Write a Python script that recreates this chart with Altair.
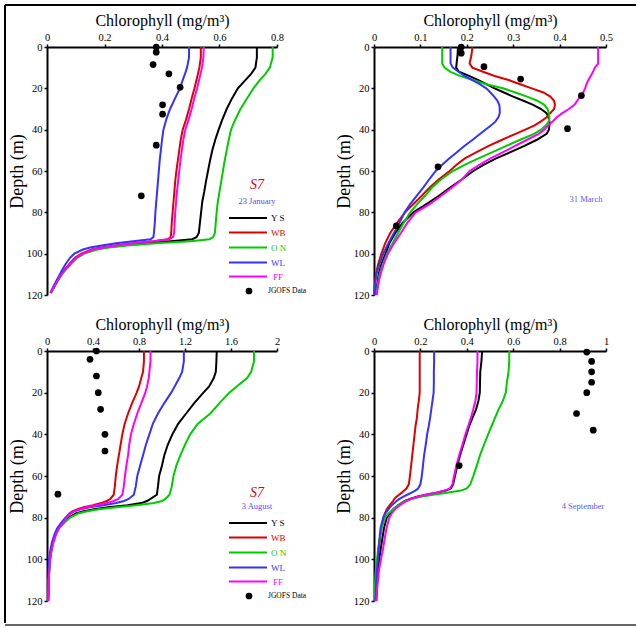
import altair as alt
import pandas as pd

SERIES = ["YS", "WB", "ON", "WL", "FF"]
COLORS = ["#000000", "#e00000", "#00cc00", "#3333ff", "#ff00ff"]
FONT = "Liberation Serif"

# ---------------- 23 January ----------------
JAN_DEPTH = [0, 5, 10, 13, 16, 20, 25, 30, 35, 40, 45, 50, 55, 60, 65, 70, 75, 80, 85, 90,
             92, 93, 94, 95, 96, 97, 98, 100, 102, 105, 108, 110, 113, 116, 119]
JAN_YS = [0.73, 0.73, 0.725, 0.71, 0.69, 0.664, 0.643, 0.625, 0.61, 0.597, 0.585, 0.575, 0.567, 0.56,
          0.553, 0.547, 0.54, 0.536, 0.532, 0.528, 0.52, 0.505, 0.43, 0.34, 0.26, 0.2, 0.16, 0.125,
          0.1, 0.08, 0.062, 0.05, 0.037, 0.025, 0.013]
JAN_WB = [0.535, 0.535, 0.53, 0.525, 0.52, 0.513, 0.503, 0.494, 0.484, 0.472, 0.465, 0.46, 0.455, 0.45,
          0.446, 0.443, 0.44, 0.437, 0.434, 0.432, 0.43, 0.42, 0.37, 0.3, 0.235, 0.19, 0.155, 0.12,
          0.097, 0.078, 0.06, 0.049, 0.036, 0.024, 0.012]
JAN_ON = [0.785, 0.785, 0.775, 0.76, 0.74, 0.718, 0.695, 0.673, 0.655, 0.64, 0.632, 0.625, 0.618, 0.612,
          0.606, 0.6, 0.594, 0.59, 0.587, 0.584, 0.578, 0.565, 0.5, 0.38, 0.28, 0.215, 0.175, 0.13,
          0.105, 0.083, 0.064, 0.052, 0.038, 0.026, 0.013]
JAN_WL = [0.494, 0.494, 0.487, 0.48, 0.472, 0.462, 0.445, 0.428, 0.415, 0.405, 0.4, 0.396, 0.392, 0.389,
          0.386, 0.383, 0.38, 0.377, 0.375, 0.372, 0.37, 0.36, 0.3, 0.24, 0.19, 0.15, 0.125, 0.095,
          0.08, 0.065, 0.052, 0.045, 0.033, 0.022, 0.012]
JAN_FF = [0.545, 0.544, 0.539, 0.534, 0.529, 0.522, 0.512, 0.503, 0.493, 0.481, 0.474, 0.469, 0.464, 0.46,
          0.456, 0.452, 0.449, 0.446, 0.444, 0.442, 0.438, 0.425, 0.37, 0.3, 0.24, 0.195, 0.16, 0.125,
          0.1, 0.08, 0.062, 0.05, 0.037, 0.025, 0.012]
JAN_OBS_CHL = [0.38, 0.38, 0.369, 0.424, 0.463, 0.402, 0.402, 0.38, 0.328]
JAN_OBS_DEPTH = [0, 2.5, 8.5, 13, 19.5, 28, 32.5, 47.5, 72]

# ---------------- 31 March ----------------
MAR_DEPTH = [0, 4, 8, 10, 12, 14, 16, 18, 20, 22, 24, 26, 28, 30, 32, 34, 36, 38, 40, 42, 45, 48,
             51, 54, 57, 60, 64, 68, 72, 76, 80, 85, 90, 95, 100, 105, 110, 115, 120]
MAR_YS = [0.181, 0.18, 0.178, 0.177, 0.183, 0.205, 0.225, 0.242, 0.26, 0.28, 0.3, 0.322, 0.343, 0.36,
          0.372, 0.376, 0.378, 0.378, 0.377, 0.372, 0.35, 0.323, 0.293, 0.262, 0.236, 0.214, 0.19,
          0.164, 0.14, 0.113, 0.085, 0.062, 0.046, 0.033, 0.025, 0.016, 0.01, 0.007, 0.005]
MAR_WB = [0.212, 0.21, 0.206, 0.212, 0.235, 0.26, 0.29, 0.315, 0.34, 0.365, 0.38, 0.388, 0.39, 0.388,
          0.38, 0.372, 0.36, 0.345, 0.326, 0.305, 0.275, 0.246, 0.22, 0.195, 0.178, 0.163, 0.14,
          0.12, 0.103, 0.085, 0.067, 0.05, 0.035, 0.024, 0.016, 0.009, 0.004, 0.002, 0.001]
MAR_ON = [0.147, 0.147, 0.147, 0.152, 0.165, 0.185, 0.213, 0.242, 0.278, 0.305, 0.33, 0.352, 0.367,
          0.374, 0.377, 0.378, 0.377, 0.37, 0.36, 0.345, 0.314, 0.284, 0.254, 0.224, 0.195, 0.17,
          0.145, 0.125, 0.11, 0.093, 0.078, 0.064, 0.052, 0.04, 0.028, 0.019, 0.012, 0.008, 0.005]
MAR_WL = [0.165, 0.165, 0.165, 0.17, 0.182, 0.195, 0.212, 0.228, 0.242, 0.251, 0.259, 0.266, 0.27,
          0.271, 0.271, 0.268, 0.262, 0.252, 0.24, 0.229, 0.212, 0.194, 0.178, 0.162, 0.147, 0.133,
          0.119, 0.106, 0.092, 0.078, 0.066, 0.055, 0.043, 0.031, 0.02, 0.012, 0.005, 0.002, 0.001]
MAR_FF = [0.483, 0.483, 0.483, 0.476, 0.472, 0.467, 0.462, 0.458, 0.455, 0.451, 0.444, 0.438, 0.432,
          0.42, 0.406, 0.394, 0.385, 0.375, 0.367, 0.355, 0.329, 0.303, 0.277, 0.25, 0.227, 0.206,
          0.19, 0.168, 0.145, 0.12, 0.09, 0.072, 0.058, 0.043, 0.03, 0.021, 0.014, 0.009, 0.006]
MAR_OBS_CHL = [0.188, 0.188, 0.237, 0.316, 0.447, 0.417, 0.138, 0.048]
MAR_OBS_DEPTH = [0, 3, 9.5, 15.5, 23.5, 39.5, 58, 86.5]

# ---------------- 3 August ----------------
AUG_DEPTH = [0, 5, 10, 13, 17, 20, 25, 30, 35, 40, 45, 50, 55, 60, 65, 69, 71, 72, 73, 74, 75, 76,
             77, 78, 80, 82, 85, 88, 92, 96, 100, 105, 110, 120]
AUG_YS = [1.476, 1.473, 1.468, 1.45, 1.41, 1.36, 1.28, 1.21, 1.14, 1.09, 1.05, 1.02, 1.0, 0.975,
          0.965, 0.955, 0.9, 0.87, 0.82, 0.7, 0.53, 0.41, 0.31, 0.25, 0.19, 0.15, 0.1, 0.075, 0.05,
          0.036, 0.026, 0.02, 0.015, 0.01]
AUG_WB = [0.843, 0.843, 0.835, 0.82, 0.8, 0.78, 0.74, 0.705, 0.675, 0.655, 0.64, 0.625, 0.61, 0.598,
          0.59, 0.58, 0.55, 0.52, 0.47, 0.4, 0.32, 0.26, 0.22, 0.195, 0.165, 0.14, 0.1, 0.072, 0.05,
          0.034, 0.024, 0.018, 0.014, 0.01]
AUG_ON = [1.8, 1.8, 1.775, 1.74, 1.65, 1.585, 1.5, 1.42, 1.31, 1.245, 1.2, 1.16, 1.125, 1.1, 1.085,
          1.065, 1.03, 1.0, 0.93, 0.78, 0.6, 0.45, 0.34, 0.27, 0.2, 0.16, 0.105, 0.078, 0.052, 0.038,
          0.027, 0.02, 0.015, 0.01]
AUG_WL = [1.19, 1.19, 1.175, 1.15, 1.11, 1.08, 1.02, 0.965, 0.92, 0.89, 0.86, 0.835, 0.81, 0.785,
          0.772, 0.755, 0.71, 0.67, 0.6, 0.49, 0.37, 0.29, 0.235, 0.2, 0.16, 0.13, 0.09, 0.065,
          0.042, 0.028, 0.018, 0.014, 0.012, 0.01]
AUG_FF = [0.9, 0.9, 0.89, 0.885, 0.87, 0.855, 0.82, 0.785, 0.755, 0.73, 0.715, 0.705, 0.69, 0.678,
          0.668, 0.655, 0.62, 0.58, 0.52, 0.43, 0.35, 0.28, 0.235, 0.205, 0.17, 0.145, 0.105, 0.078,
          0.055, 0.038, 0.027, 0.02, 0.015, 0.01]
AUG_OBS_CHL = [0.43, 0.374, 0.43, 0.446, 0.466, 0.504, 0.504, 0.095]
AUG_OBS_DEPTH = [0, 4, 12, 20, 28, 40, 48, 68.7]

# ---------------- 4 September ----------------
SEP_DEPTH = [0, 5, 10, 15, 20, 24, 28, 32, 36, 40, 45, 50, 55, 60, 64, 66, 67, 68, 69, 70, 71, 72,
             74, 76, 78, 80, 85, 90, 95, 100, 105, 110, 115, 120]
SEP_YS = [0.466, 0.463, 0.458, 0.457, 0.456, 0.45, 0.44, 0.425, 0.41, 0.399, 0.385, 0.371, 0.359,
          0.349, 0.341, 0.331, 0.31, 0.27, 0.225, 0.185, 0.155, 0.133, 0.105, 0.083, 0.068, 0.055,
          0.043, 0.036, 0.029, 0.022, 0.018, 0.014, 0.012, 0.01]
SEP_WB = [0.197, 0.197, 0.197, 0.197, 0.197, 0.193, 0.188, 0.185, 0.179, 0.175, 0.17, 0.165, 0.16,
          0.155, 0.15, 0.14, 0.13, 0.12, 0.108, 0.097, 0.088, 0.082, 0.068, 0.055, 0.047, 0.04,
          0.032, 0.025, 0.02, 0.016, 0.013, 0.01, 0.008, 0.006]
SEP_ON = [0.583, 0.583, 0.58, 0.573, 0.568, 0.555, 0.537, 0.522, 0.507, 0.492, 0.474, 0.457, 0.443,
          0.428, 0.415, 0.4, 0.375, 0.315, 0.255, 0.2, 0.163, 0.135, 0.105, 0.083, 0.062, 0.048,
          0.033, 0.025, 0.018, 0.013, 0.008, 0.005, 0.004, 0.003]
SEP_WL = [0.259, 0.259, 0.258, 0.258, 0.257, 0.252, 0.247, 0.242, 0.236, 0.229, 0.223, 0.216, 0.211,
          0.206, 0.2, 0.19, 0.178, 0.162, 0.143, 0.125, 0.11, 0.097, 0.077, 0.062, 0.049, 0.04,
          0.028, 0.024, 0.02, 0.017, 0.013, 0.01, 0.008, 0.006]
SEP_FF = [0.446, 0.446, 0.444, 0.443, 0.442, 0.437, 0.428, 0.418, 0.406, 0.394, 0.381, 0.367, 0.355,
          0.345, 0.338, 0.327, 0.305, 0.265, 0.22, 0.185, 0.16, 0.14, 0.112, 0.09, 0.076, 0.066,
          0.054, 0.046, 0.039, 0.03, 0.022, 0.017, 0.013, 0.01]
SEP_OBS_CHL = [0.917, 0.938, 0.938, 0.938, 0.917, 0.873, 0.945, 0.367]
SEP_OBS_DEPTH = [0.5, 5, 10, 15, 20, 30, 38, 55]

X_TITLE = "Chlorophyll (mg/m\u00b3)"
Y_TITLE = "Depth (m)"


def one():
    return pd.DataFrame({"a": [0]})


def txt(s, x, y, color, size, style="normal", align="left"):
    return alt.Chart(pd.DataFrame({"t": [s]})).mark_text(
        font=FONT, fontSize=size, color=color, fontStyle=style, align=align, baseline="middle"
    ).encode(x=alt.value(x), y=alt.value(y), text="t:N")


def seg(x, x2, y, y2, color, w):
    return alt.Chart(one()).mark_rule(color=color, strokeWidth=w).encode(
        x=alt.value(x), x2=alt.value(x2), y=alt.value(y), y2=alt.value(y2))


def legend_layers(top):
    layers = []
    ys = [top, top + 14.5, top + 29.5, top + 44.5, top + 58.5]
    for name, col, yy in zip(["Y S", "WB", "O N", "WL", "FF"], COLORS, ys):
        layers.append(seg(182, 220, yy, yy, col, 2))
        layers.append(txt(name, 224 if name != "FF" else 226, yy, col, 9))
    layers.append(alt.Chart(one()).mark_point(filled=True, shape="circle", size=45, color="black",
                                               opacity=1).encode(x=alt.value(202), y=alt.value(top + 73)))
    layers.append(txt("JGOFS Data", 221, top + 73, "black", 7.5))
    return layers


def panel(depth, series_vals, obs_chl, obs_depth, xmax, xstep, mult, w, h, extras):
    rows = []
    for name, vals in zip(SERIES, series_vals):
        for d, v in zip(depth, vals):
            rows.append({"series": name, "depth": d, "chl": v})
    df = pd.DataFrame(rows)
    obs = pd.DataFrame({"chl": obs_chl, "depth": obs_depth})
    nt = int(round(xmax / xstep))
    xvals = [round(i * xstep, 3) for i in range(nt + 1)]
    xaxis = alt.Axis(
        orient="top", values=xvals, title=X_TITLE, titleFontSize=16, titleY=-22,
        titleBaseline="alphabetic", labelFlush=False, labelOverlap=False,
        labelExpr=f"round(datum.value*{mult}) % 2 == 0 ? format(datum.value, '~g') : ''",
        labelPadding=2)
    yaxis = alt.Axis(
        orient="left", values=list(range(0, 121, 10)), title=Y_TITLE, titleFontSize=18,
        titleX=-30, titleY=h / 2, titleBaseline="middle", titleAlign="center", titleAngle=-90,
        labelOverlap=False, labelPadding=2,
        labelExpr="datum.value % 20 == 0 ? datum.label : ''")
    xs = alt.Scale(domain=[0, xmax], nice=False, zero=True)
    ys = alt.Scale(domain=[0, 120], nice=False, reverse=True)
    lines = alt.Chart(df).mark_line(strokeWidth=2).encode(
        x=alt.X("chl:Q", scale=xs, axis=xaxis),
        y=alt.Y("depth:Q", scale=ys, axis=yaxis),
        color=alt.Color("series:N", scale=alt.Scale(domain=SERIES, range=COLORS), legend=None),
        order=alt.Order("depth:Q"),
    )
    dots = alt.Chart(obs).mark_point(filled=True, shape="circle", size=45, color="black",
                                     opacity=1).encode(
        x=alt.X("chl:Q"), y=alt.Y("depth:Q"))
    return alt.layer(lines, dots, *extras).properties(width=w, height=h)


p1_extras = [
    txt("S7", 210, 138, "#dd0000", 14, style="italic", align="center"),
    txt("23 January", 210, 154, "#4d4dff", 8.5, align="center"),
    *legend_layers(171),
    seg(-42, 589, -42, -42, "black", 2),
    seg(-42, -42, -42, 576, "black", 2),
]
p2_extras = [txt("31 March", 212, 152, "#5a5aff", 8.5, align="center")]
p3_extras = [
    txt("S7", 210, 142, "#dd0000", 14, style="italic", align="center"),
    txt("3 August", 210, 155, "#4d4dff", 8.5, align="center"),
    *legend_layers(172),
    seg(-42, 589, 274, 274, "#333333", 1.5),
]
p4_extras = [txt("4 September", 209, 155, "#5a5aff", 8.5, align="center")]

p1 = panel(JAN_DEPTH, [JAN_YS, JAN_WB, JAN_ON, JAN_WL, JAN_FF], JAN_OBS_CHL, JAN_OBS_DEPTH,
           0.8, 0.1, 10, 230, 248, p1_extras)
p2 = panel(MAR_DEPTH, [MAR_YS, MAR_WB, MAR_ON, MAR_WL, MAR_FF], MAR_OBS_CHL, MAR_OBS_DEPTH,
           0.5, 0.05, 20, 232, 248, p2_extras)
p3 = panel(AUG_DEPTH, [AUG_YS, AUG_WB, AUG_ON, AUG_WL, AUG_FF], AUG_OBS_CHL, AUG_OBS_DEPTH,
           2.0, 0.2, 5, 230, 250, p3_extras)
p4 = panel(SEP_DEPTH, [SEP_YS, SEP_WB, SEP_ON, SEP_WL, SEP_FF], SEP_OBS_CHL, SEP_OBS_DEPTH,
           1.0, 0.1, 10, 232, 250, p4_extras)

chart = alt.concat(p1, p2, p3, p4, columns=2, spacing={"row": 56, "column": 97}).properties(
    bounds="flush",
    padding={"left": 4, "top": 4, "right": 0, "bottom": 0},
    background="white",
).configure_view(stroke=None).configure_axis(
    labelFont=FONT, titleFont=FONT, labelFontSize=10.5, labelColor="black", titleColor="black",
    titleFontWeight="normal", domainColor="black", domainWidth=2, tickColor="black",
    tickWidth=1.5, tickSize=3, grid=False,
)

chart.save("out.html", embed_options={"renderer": "svg", "actions": False})
